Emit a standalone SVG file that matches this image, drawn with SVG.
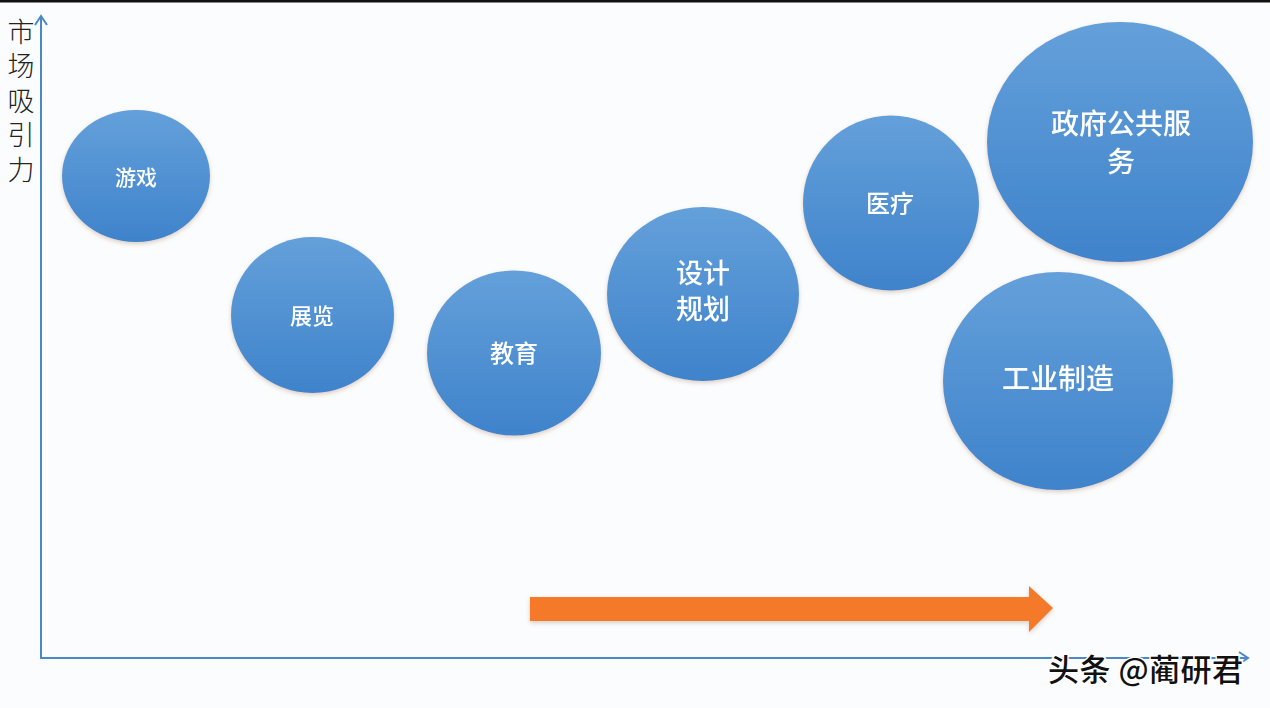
<svg xmlns="http://www.w3.org/2000/svg" width="1270" height="708" viewBox="0 0 1270 708">
<style>
.bubble{fill:url(#bg);}
.lbl{fill:#ffffff;font-family:"Noto Sans CJK SC","Noto Sans",sans-serif;font-weight:500;text-anchor:middle;dominant-baseline:central;}
.axis{stroke:#4a88c6;stroke-width:2;fill:none;}
.ylab{fill:#222;font-family:"Noto Sans CJK SC",sans-serif;font-weight:300;font-size:27px;writing-mode:tb;glyph-orientation-vertical:0;letter-spacing:7.5px;}
.wm{font-family:"Noto Sans CJK SC",sans-serif;font-size:31px;font-weight:500;fill:#111;stroke:#fff;stroke-width:3;paint-order:stroke;letter-spacing:0.5px;}
</style>
<defs>
<linearGradient id="bg" x1="0" y1="0" x2="0" y2="1">
<stop offset="0" stop-color="#64a0da"/>
<stop offset="1" stop-color="#3f83cb"/>
</linearGradient>
<filter id="sh" x="-10%" y="-10%" width="120%" height="125%">
<feDropShadow dx="0" dy="2" stdDeviation="2" flood-color="#a0785a" flood-opacity="0.35"/>
</filter>
</defs>
<rect width="1270" height="708" fill="#fbfcfd"/>
<rect width="1270" height="2.5" fill="#111"/>
<g id="axes">
<path class="axis" d="M41 16 V658 H1247"/>
<path class="axis" d="M35 25 L41 16 L47 25"/>
<path class="axis" stroke-width="1.6" d="M1239 652 L1248 658 L1239 664"/>
</g>
<g id="y-label">
<text class="ylab" x="21" y="18">市场吸引力</text>
</g>
<g id="node-game" filter="url(#sh)">
<ellipse class="bubble" cx="136" cy="176" rx="74" ry="66"/>
<text class="lbl" x="136" y="176" font-size="21">游戏</text>
</g>
<g id="node-expo" filter="url(#sh)">
<ellipse class="bubble" cx="312.5" cy="315" rx="81.5" ry="78"/>
<text class="lbl" x="312" y="314" font-size="22">展览</text>
</g>
<g id="node-edu" filter="url(#sh)">
<ellipse class="bubble" cx="514" cy="353" rx="87" ry="82.5"/>
<text class="lbl" x="514" y="351" font-size="24">教育</text>
</g>
<g id="node-design" filter="url(#sh)">
<ellipse class="bubble" cx="703" cy="294" rx="96" ry="87"/>
<text class="lbl" font-size="27"><tspan x="703" y="271">设计</tspan><tspan x="703" y="307">规划</tspan></text>
</g>
<g id="node-medical" filter="url(#sh)">
<ellipse class="bubble" cx="891" cy="203" rx="88" ry="87.5"/>
<text class="lbl" x="890" y="201" font-size="24">医疗</text>
</g>
<g id="node-gov" filter="url(#sh)">
<ellipse class="bubble" cx="1120" cy="142" rx="133" ry="120"/>
<text class="lbl" font-size="28"><tspan x="1121" y="122">政府公共服</tspan><tspan x="1121" y="160">务</tspan></text>
</g>
<g id="node-industry" filter="url(#sh)">
<ellipse class="bubble" cx="1058" cy="381" rx="115" ry="109"/>
<text class="lbl" x="1058" y="377" font-size="28">工业制造</text>
</g>
<g id="connectors">
<path d="M530 597 H1029 V586 L1053 608 L1029 632 V621 H530 Z" fill="#f47a2c" filter="url(#sh)"/>
</g>
<text class="wm" x="1048" y="681">头条 @蔺研君</text>
</svg>
